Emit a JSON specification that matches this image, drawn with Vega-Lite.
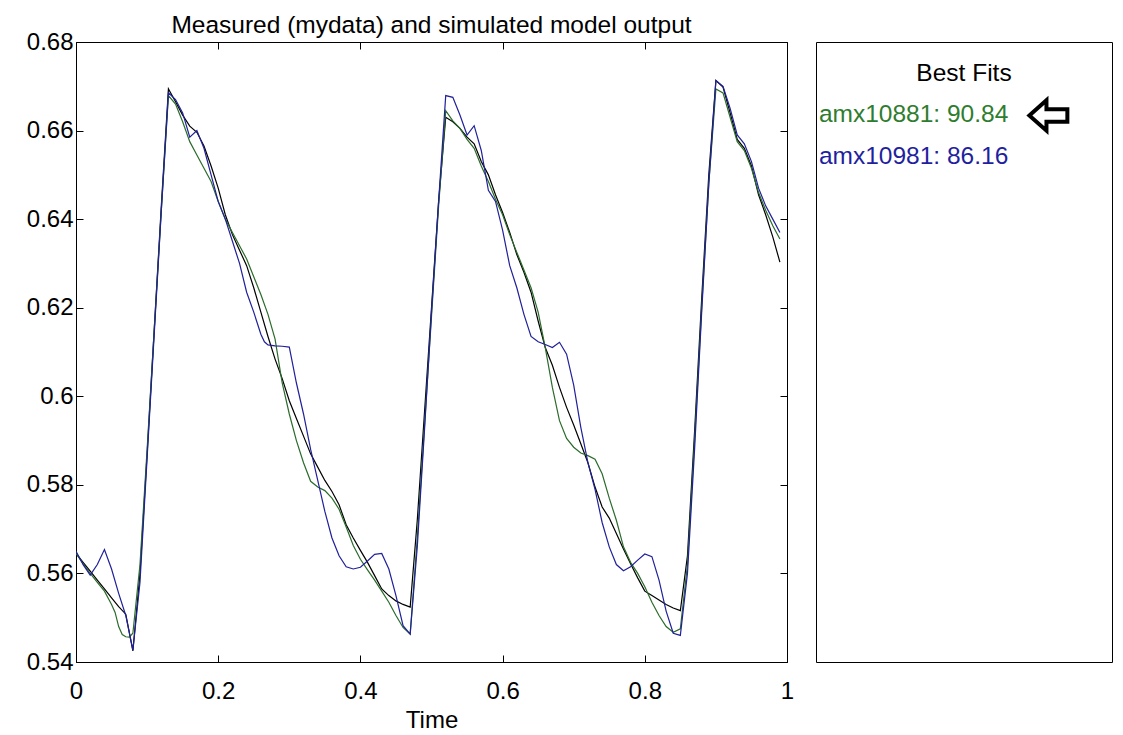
{
  "$schema": "https://vega.github.io/schema/vega-lite/v6.json",
  "background": "white",
  "padding": {"left": 25, "top": 12, "right": 0, "bottom": 0},
  "config": {
    "font": "Liberation Sans",
    "view": {"stroke": "black", "strokeWidth": 1},
    "axis": {"labelFont": "Liberation Sans", "labelFontSize": 24, "labelColor": "black", "titleFont": "Liberation Sans", "titleFontSize": 24, "titleFontWeight": "normal", "titleColor": "black", "domainColor": "black", "tickColor": "black", "grid": false},
    "concat": {"spacing": 20}
  },
  "resolve": {"scale": {"x": "independent", "y": "independent", "color": "independent"}},
  "datasets": {
    "fits": [
      {"model": "amx10881", "fit": 90.84, "rank": 1, "label": "amx10881: 90.84"},
      {"model": "amx10981", "fit": 86.16, "rank": 2, "label": "amx10981: 86.16"}
    ],
    "series": [
      {"s":"Measured","t":0.00,"v":0.5645},{"s":"Measured","t":0.01,"v":0.5625},{"s":"Measured","t":0.02,"v":0.5605},{"s":"Measured","t":0.03,"v":0.5585},{"s":"Measured","t":0.04,"v":0.5565},{"s":"Measured","t":0.05,"v":0.5545},{"s":"Measured","t":0.06,"v":0.5525},{"s":"Measured","t":0.07,"v":0.5508},{"s":"Measured","t":0.08,"v":0.5425},{"s":"Measured","t":0.09,"v":0.5600},{"s":"Measured","t":0.10,"v":0.5870},{"s":"Measured","t":0.11,"v":0.6150},{"s":"Measured","t":0.12,"v":0.6430},{"s":"Measured","t":0.13,"v":0.6694},{"s":"Measured","t":0.14,"v":0.6665},{"s":"Measured","t":0.15,"v":0.6635},{"s":"Measured","t":0.16,"v":0.6610},{"s":"Measured","t":0.17,"v":0.6596},{"s":"Measured","t":0.18,"v":0.6565},{"s":"Measured","t":0.19,"v":0.6520},{"s":"Measured","t":0.20,"v":0.6470},{"s":"Measured","t":0.21,"v":0.6410},{"s":"Measured","t":0.22,"v":0.6365},{"s":"Measured","t":0.23,"v":0.6330},{"s":"Measured","t":0.24,"v":0.6295},{"s":"Measured","t":0.25,"v":0.6245},{"s":"Measured","t":0.26,"v":0.6190},{"s":"Measured","t":0.27,"v":0.6135},{"s":"Measured","t":0.28,"v":0.6084},{"s":"Measured","t":0.29,"v":0.6040},{"s":"Measured","t":0.30,"v":0.5990},{"s":"Measured","t":0.31,"v":0.5950},{"s":"Measured","t":0.32,"v":0.5910},{"s":"Measured","t":0.33,"v":0.5870},{"s":"Measured","t":0.34,"v":0.5840},{"s":"Measured","t":0.35,"v":0.5810},{"s":"Measured","t":0.36,"v":0.5785},{"s":"Measured","t":0.37,"v":0.5755},{"s":"Measured","t":0.38,"v":0.5710},{"s":"Measured","t":0.39,"v":0.5680},{"s":"Measured","t":0.40,"v":0.5652},{"s":"Measured","t":0.41,"v":0.5625},{"s":"Measured","t":0.42,"v":0.5595},{"s":"Measured","t":0.43,"v":0.5565},{"s":"Measured","t":0.44,"v":0.5550},{"s":"Measured","t":0.45,"v":0.5538},{"s":"Measured","t":0.46,"v":0.5530},{"s":"Measured","t":0.47,"v":0.5524},{"s":"Measured","t":0.48,"v":0.5720},{"s":"Measured","t":0.49,"v":0.5960},{"s":"Measured","t":0.50,"v":0.6200},{"s":"Measured","t":0.51,"v":0.6440},{"s":"Measured","t":0.52,"v":0.6630},{"s":"Measured","t":0.53,"v":0.6620},{"s":"Measured","t":0.54,"v":0.6605},{"s":"Measured","t":0.55,"v":0.6585},{"s":"Measured","t":0.56,"v":0.6570},{"s":"Measured","t":0.57,"v":0.6530},{"s":"Measured","t":0.58,"v":0.6500},{"s":"Measured","t":0.59,"v":0.6455},{"s":"Measured","t":0.60,"v":0.6415},{"s":"Measured","t":0.61,"v":0.6370},{"s":"Measured","t":0.62,"v":0.6320},{"s":"Measured","t":0.63,"v":0.6280},{"s":"Measured","t":0.64,"v":0.6235},{"s":"Measured","t":0.65,"v":0.6170},{"s":"Measured","t":0.66,"v":0.6110},{"s":"Measured","t":0.67,"v":0.6070},{"s":"Measured","t":0.68,"v":0.6020},{"s":"Measured","t":0.69,"v":0.5975},{"s":"Measured","t":0.70,"v":0.5935},{"s":"Measured","t":0.71,"v":0.5893},{"s":"Measured","t":0.72,"v":0.5850},{"s":"Measured","t":0.73,"v":0.5795},{"s":"Measured","t":0.74,"v":0.5750},{"s":"Measured","t":0.75,"v":0.5725},{"s":"Measured","t":0.76,"v":0.5690},{"s":"Measured","t":0.77,"v":0.5655},{"s":"Measured","t":0.78,"v":0.5622},{"s":"Measured","t":0.79,"v":0.5590},{"s":"Measured","t":0.80,"v":0.5560},{"s":"Measured","t":0.81,"v":0.5550},{"s":"Measured","t":0.82,"v":0.5540},{"s":"Measured","t":0.83,"v":0.5530},{"s":"Measured","t":0.84,"v":0.5522},{"s":"Measured","t":0.85,"v":0.5516},{"s":"Measured","t":0.86,"v":0.5640},{"s":"Measured","t":0.87,"v":0.5920},{"s":"Measured","t":0.88,"v":0.6220},{"s":"Measured","t":0.89,"v":0.6500},{"s":"Measured","t":0.90,"v":0.6713},{"s":"Measured","t":0.91,"v":0.6698},{"s":"Measured","t":0.92,"v":0.6640},{"s":"Measured","t":0.93,"v":0.6580},{"s":"Measured","t":0.94,"v":0.6560},{"s":"Measured","t":0.95,"v":0.6520},{"s":"Measured","t":0.96,"v":0.6455},{"s":"Measured","t":0.97,"v":0.6410},{"s":"Measured","t":0.98,"v":0.6360},{"s":"Measured","t":0.99,"v":0.6303},
      {"s":"amx10881","t":0.00,"v":0.5645},{"s":"amx10881","t":0.01,"v":0.5622},{"s":"amx10881","t":0.02,"v":0.5600},{"s":"amx10881","t":0.03,"v":0.5580},{"s":"amx10881","t":0.04,"v":0.5560},{"s":"amx10881","t":0.05,"v":0.5530},{"s":"amx10881","t":0.055,"v":0.5512},{"s":"amx10881","t":0.06,"v":0.5480},{"s":"amx10881","t":0.065,"v":0.5462},{"s":"amx10881","t":0.07,"v":0.5457},{"s":"amx10881","t":0.075,"v":0.5456},{"s":"amx10881","t":0.08,"v":0.5465},{"s":"amx10881","t":0.09,"v":0.5620},{"s":"amx10881","t":0.10,"v":0.5880},{"s":"amx10881","t":0.11,"v":0.6150},{"s":"amx10881","t":0.12,"v":0.6420},{"s":"amx10881","t":0.13,"v":0.6679},{"s":"amx10881","t":0.14,"v":0.6660},{"s":"amx10881","t":0.15,"v":0.6620},{"s":"amx10881","t":0.16,"v":0.6575},{"s":"amx10881","t":0.17,"v":0.6545},{"s":"amx10881","t":0.18,"v":0.6515},{"s":"amx10881","t":0.19,"v":0.6485},{"s":"amx10881","t":0.20,"v":0.6440},{"s":"amx10881","t":0.21,"v":0.6400},{"s":"amx10881","t":0.22,"v":0.6370},{"s":"amx10881","t":0.23,"v":0.6340},{"s":"amx10881","t":0.24,"v":0.6310},{"s":"amx10881","t":0.25,"v":0.6270},{"s":"amx10881","t":0.26,"v":0.6230},{"s":"amx10881","t":0.27,"v":0.6185},{"s":"amx10881","t":0.28,"v":0.6129},{"s":"amx10881","t":0.29,"v":0.6030},{"s":"amx10881","t":0.30,"v":0.5960},{"s":"amx10881","t":0.31,"v":0.5900},{"s":"amx10881","t":0.32,"v":0.5850},{"s":"amx10881","t":0.33,"v":0.5808},{"s":"amx10881","t":0.34,"v":0.5795},{"s":"amx10881","t":0.35,"v":0.5787},{"s":"amx10881","t":0.36,"v":0.5770},{"s":"amx10881","t":0.37,"v":0.5745},{"s":"amx10881","t":0.38,"v":0.5705},{"s":"amx10881","t":0.39,"v":0.5663},{"s":"amx10881","t":0.40,"v":0.5632},{"s":"amx10881","t":0.41,"v":0.5608},{"s":"amx10881","t":0.42,"v":0.5585},{"s":"amx10881","t":0.43,"v":0.5560},{"s":"amx10881","t":0.44,"v":0.5535},{"s":"amx10881","t":0.45,"v":0.5505},{"s":"amx10881","t":0.46,"v":0.5478},{"s":"amx10881","t":0.47,"v":0.5463},{"s":"amx10881","t":0.48,"v":0.5680},{"s":"amx10881","t":0.49,"v":0.5930},{"s":"amx10881","t":0.50,"v":0.6180},{"s":"amx10881","t":0.51,"v":0.6430},{"s":"amx10881","t":0.52,"v":0.6645},{"s":"amx10881","t":0.53,"v":0.6622},{"s":"amx10881","t":0.54,"v":0.6605},{"s":"amx10881","t":0.55,"v":0.6580},{"s":"amx10881","t":0.56,"v":0.6560},{"s":"amx10881","t":0.57,"v":0.6520},{"s":"amx10881","t":0.58,"v":0.6485},{"s":"amx10881","t":0.59,"v":0.6445},{"s":"amx10881","t":0.60,"v":0.6410},{"s":"amx10881","t":0.61,"v":0.6365},{"s":"amx10881","t":0.62,"v":0.6325},{"s":"amx10881","t":0.63,"v":0.6285},{"s":"amx10881","t":0.64,"v":0.6245},{"s":"amx10881","t":0.65,"v":0.6190},{"s":"amx10881","t":0.66,"v":0.6110},{"s":"amx10881","t":0.67,"v":0.6020},{"s":"amx10881","t":0.68,"v":0.5945},{"s":"amx10881","t":0.69,"v":0.5905},{"s":"amx10881","t":0.70,"v":0.5885},{"s":"amx10881","t":0.71,"v":0.5872},{"s":"amx10881","t":0.72,"v":0.5866},{"s":"amx10881","t":0.73,"v":0.5858},{"s":"amx10881","t":0.74,"v":0.5825},{"s":"amx10881","t":0.75,"v":0.5770},{"s":"amx10881","t":0.76,"v":0.5720},{"s":"amx10881","t":0.77,"v":0.5660},{"s":"amx10881","t":0.78,"v":0.5625},{"s":"amx10881","t":0.79,"v":0.5600},{"s":"amx10881","t":0.80,"v":0.5570},{"s":"amx10881","t":0.81,"v":0.5535},{"s":"amx10881","t":0.82,"v":0.5505},{"s":"amx10881","t":0.83,"v":0.5480},{"s":"amx10881","t":0.84,"v":0.5467},{"s":"amx10881","t":0.85,"v":0.5475},{"s":"amx10881","t":0.86,"v":0.5620},{"s":"amx10881","t":0.87,"v":0.5900},{"s":"amx10881","t":0.88,"v":0.6200},{"s":"amx10881","t":0.89,"v":0.6480},{"s":"amx10881","t":0.90,"v":0.6694},{"s":"amx10881","t":0.91,"v":0.6685},{"s":"amx10881","t":0.92,"v":0.6630},{"s":"amx10881","t":0.93,"v":0.6575},{"s":"amx10881","t":0.94,"v":0.6555},{"s":"amx10881","t":0.95,"v":0.6515},{"s":"amx10881","t":0.96,"v":0.6460},{"s":"amx10881","t":0.97,"v":0.6420},{"s":"amx10881","t":0.98,"v":0.6385},{"s":"amx10881","t":0.99,"v":0.6355},
      {"s":"amx10981","t":0.00,"v":0.5650},{"s":"amx10981","t":0.01,"v":0.5620},{"s":"amx10981","t":0.02,"v":0.5596},{"s":"amx10981","t":0.03,"v":0.5620},{"s":"amx10981","t":0.04,"v":0.5654},{"s":"amx10981","t":0.05,"v":0.5610},{"s":"amx10981","t":0.06,"v":0.5555},{"s":"amx10981","t":0.07,"v":0.5505},{"s":"amx10981","t":0.08,"v":0.5427},{"s":"amx10981","t":0.09,"v":0.5580},{"s":"amx10981","t":0.10,"v":0.5860},{"s":"amx10981","t":0.11,"v":0.6140},{"s":"amx10981","t":0.12,"v":0.6420},{"s":"amx10981","t":0.13,"v":0.6685},{"s":"amx10981","t":0.14,"v":0.6670},{"s":"amx10981","t":0.15,"v":0.6640},{"s":"amx10981","t":0.16,"v":0.6585},{"s":"amx10981","t":0.17,"v":0.6600},{"s":"amx10981","t":0.18,"v":0.6560},{"s":"amx10981","t":0.19,"v":0.6500},{"s":"amx10981","t":0.20,"v":0.6440},{"s":"amx10981","t":0.21,"v":0.6400},{"s":"amx10981","t":0.22,"v":0.6350},{"s":"amx10981","t":0.23,"v":0.6300},{"s":"amx10981","t":0.24,"v":0.6235},{"s":"amx10981","t":0.25,"v":0.6190},{"s":"amx10981","t":0.26,"v":0.6140},{"s":"amx10981","t":0.265,"v":0.6123},{"s":"amx10981","t":0.27,"v":0.6116},{"s":"amx10981","t":0.28,"v":0.6114},{"s":"amx10981","t":0.29,"v":0.6113},{"s":"amx10981","t":0.30,"v":0.6111},{"s":"amx10981","t":0.31,"v":0.6030},{"s":"amx10981","t":0.32,"v":0.5960},{"s":"amx10981","t":0.33,"v":0.5880},{"s":"amx10981","t":0.34,"v":0.5810},{"s":"amx10981","t":0.35,"v":0.5740},{"s":"amx10981","t":0.36,"v":0.5680},{"s":"amx10981","t":0.37,"v":0.5640},{"s":"amx10981","t":0.38,"v":0.5615},{"s":"amx10981","t":0.39,"v":0.5610},{"s":"amx10981","t":0.40,"v":0.5614},{"s":"amx10981","t":0.41,"v":0.5628},{"s":"amx10981","t":0.42,"v":0.5643},{"s":"amx10981","t":0.43,"v":0.5645},{"s":"amx10981","t":0.44,"v":0.5610},{"s":"amx10981","t":0.45,"v":0.5550},{"s":"amx10981","t":0.46,"v":0.5482},{"s":"amx10981","t":0.47,"v":0.5463},{"s":"amx10981","t":0.48,"v":0.5660},{"s":"amx10981","t":0.49,"v":0.5920},{"s":"amx10981","t":0.50,"v":0.6190},{"s":"amx10981","t":0.51,"v":0.6440},{"s":"amx10981","t":0.52,"v":0.6679},{"s":"amx10981","t":0.53,"v":0.6675},{"s":"amx10981","t":0.54,"v":0.6635},{"s":"amx10981","t":0.55,"v":0.6590},{"s":"amx10981","t":0.56,"v":0.6611},{"s":"amx10981","t":0.57,"v":0.6555},{"s":"amx10981","t":0.58,"v":0.6465},{"s":"amx10981","t":0.59,"v":0.6440},{"s":"amx10981","t":0.60,"v":0.6375},{"s":"amx10981","t":0.61,"v":0.6295},{"s":"amx10981","t":0.62,"v":0.6245},{"s":"amx10981","t":0.63,"v":0.6185},{"s":"amx10981","t":0.64,"v":0.6135},{"s":"amx10981","t":0.65,"v":0.6123},{"s":"amx10981","t":0.66,"v":0.6117},{"s":"amx10981","t":0.67,"v":0.6110},{"s":"amx10981","t":0.68,"v":0.6122},{"s":"amx10981","t":0.69,"v":0.6095},{"s":"amx10981","t":0.70,"v":0.6025},{"s":"amx10981","t":0.71,"v":0.5930},{"s":"amx10981","t":0.72,"v":0.5850},{"s":"amx10981","t":0.73,"v":0.5790},{"s":"amx10981","t":0.74,"v":0.5715},{"s":"amx10981","t":0.75,"v":0.5660},{"s":"amx10981","t":0.76,"v":0.5620},{"s":"amx10981","t":0.77,"v":0.5606},{"s":"amx10981","t":0.78,"v":0.5615},{"s":"amx10981","t":0.79,"v":0.5630},{"s":"amx10981","t":0.80,"v":0.5644},{"s":"amx10981","t":0.81,"v":0.5638},{"s":"amx10981","t":0.82,"v":0.5585},{"s":"amx10981","t":0.83,"v":0.5515},{"s":"amx10981","t":0.84,"v":0.5465},{"s":"amx10981","t":0.85,"v":0.5460},{"s":"amx10981","t":0.86,"v":0.5600},{"s":"amx10981","t":0.87,"v":0.5880},{"s":"amx10981","t":0.88,"v":0.6190},{"s":"amx10981","t":0.89,"v":0.6480},{"s":"amx10981","t":0.90,"v":0.6713},{"s":"amx10981","t":0.91,"v":0.6700},{"s":"amx10981","t":0.92,"v":0.6650},{"s":"amx10981","t":0.93,"v":0.6590},{"s":"amx10981","t":0.94,"v":0.6570},{"s":"amx10981","t":0.95,"v":0.6530},{"s":"amx10981","t":0.96,"v":0.6470},{"s":"amx10981","t":0.97,"v":0.6430},{"s":"amx10981","t":0.98,"v":0.6400},{"s":"amx10981","t":0.99,"v":0.6370}
    ]
  },
  "hconcat": [
    {
      "width": 711,
      "height": 620,
      "title": {"text": "Measured (mydata) and simulated model output", "font": "Liberation Sans", "fontSize": 24.5, "fontWeight": "normal", "color": "black", "anchor": "middle", "frame": "group", "offset": -8},
      "data": {"name": "series"},
      "layer": [
        {
          "mark": {"type": "line", "strokeWidth": 1.2, "clip": true},
          "encoding": {
            "x": {"field": "t", "type": "quantitative", "scale": {"domain": [0, 1], "nice": false, "zero": false},
                  "axis": {"orient": "bottom", "title": "Time", "values": [0, 0.2, 0.4, 0.6, 0.8, 1], "format": "~g", "tickSize": -7, "labelPadding": 24, "titlePadding": 5, "labelFlush": false}},
            "y": {"field": "v", "type": "quantitative", "scale": {"domain": [0.54, 0.68], "nice": false, "zero": false},
                  "axis": {"orient": "left", "title": null, "values": [0.54, 0.56, 0.58, 0.6, 0.62, 0.64, 0.66, 0.68], "format": "~g", "tickSize": -7, "labelPadding": 10, "labelFlush": false}},
            "color": {"field": "s", "type": "nominal", "scale": {"domain": ["Measured", "amx10881", "amx10981"], "range": ["#000000", "#2b6b2b", "#20209a"]}, "legend": null}
          }
        },
        {
          "mark": {"type": "line", "opacity": 0},
          "encoding": {
            "x": {"field": "t", "type": "quantitative", "axis": {"orient": "top", "title": null, "labels": false, "domain": false, "values": [0, 0.2, 0.4, 0.6, 0.8, 1], "tickSize": -7, "minExtent": 0, "maxExtent": 0}},
            "y": {"field": "v", "type": "quantitative", "axis": {"orient": "right", "title": null, "labels": false, "domain": false, "values": [0.54, 0.56, 0.58, 0.6, 0.62, 0.64, 0.66, 0.68], "tickSize": -7, "minExtent": 0, "maxExtent": 0}},
            "detail": {"field": "s", "type": "nominal"}
          }
        }
      ],
      "resolve": {"axis": {"x": "independent", "y": "independent"}}
    },
    {
      "width": 296,
      "height": 620,
      "layer": [
        {
          "data": {"values": [{"heading": "Best Fits"}]},
          "mark": {"type": "text", "font": "Liberation Sans", "fontSize": 24.5, "align": "center", "baseline": "middle", "color": "black"},
          "encoding": {
            "text": {"field": "heading", "type": "nominal"},
            "x": {"datum": 0.5, "type": "quantitative", "scale": {"domain": [0, 1]}, "axis": null},
            "y": {"datum": 0, "type": "quantitative", "scale": {"domain": [-0.77, 14.17], "reverse": true, "nice": false, "zero": false}, "axis": null}
          }
        },
        {
          "data": {"name": "fits"},
          "mark": {"type": "text", "font": "Liberation Sans", "fontSize": 24.5, "align": "left", "baseline": "middle"},
          "encoding": {
            "text": {"field": "label", "type": "nominal"},
            "x": {"datum": 0.01, "type": "quantitative", "axis": null},
            "y": {"field": "rank", "type": "quantitative", "axis": null},
            "color": {"field": "model", "type": "nominal", "scale": {"domain": ["amx10881", "amx10981"], "range": ["#2e7d2e", "#1f1fa0"]}, "legend": null}
          }
        },
        {
          "data": {"name": "fits"},
          "transform": [{"filter": "datum.rank == 1"}],
          "mark": {"type": "point", "shape": "M -1 0 L -0.1 -0.8 L -0.1 -0.33 L 1 -0.33 L 1 0.33 L -0.1 0.33 L -0.1 0.8 Z", "size": 1444, "filled": false, "stroke": "black", "strokeWidth": 4, "opacity": 1},
          "encoding": {
            "x": {"datum": 0.785, "type": "quantitative", "axis": null},
            "y": {"field": "rank", "type": "quantitative", "axis": null}
          }
        }
      ]
    }
  ]
}
